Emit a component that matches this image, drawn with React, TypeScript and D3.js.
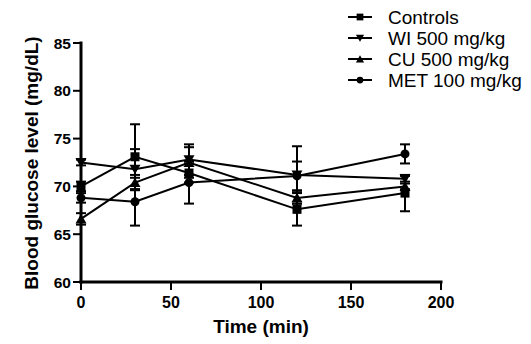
import React from "react";
import * as d3 from "d3";

const times = [0, 30, 60, 120, 180];
const seriesNames = ["Controls", "WI 500 mg/kg", "CU 500 mg/kg", "MET 100 mg/kg"];
const controls = [70.0, 73.1, 71.4, 67.6, 69.3];
const controlsErr = [0.5, 3.4, 1.0, 1.7, 1.9];
const wi = [72.5, 71.8, 72.8, 71.2, 70.8];
const wiErr = [0.3, 2.1, 1.6, 3.0, 0.3];
const cu = [66.6, 70.4, 72.5, 68.8, 70.0];
const cuErr = [0.6, 0.8, 1.6, 0.6, 0.3];
const met = [68.8, 68.4, 70.4, 71.1, 73.4];
const metErr = [0.5, 2.5, 2.2, 1.5, 1.0];
const xTicks = [0, 50, 100, 150, 200];
const yTicks = [60, 65, 70, 75, 80, 85];

const W = 531, H = 344;
const x = d3.scaleLinear().domain([0, 200]).range([81, 441]);
const y = d3.scaleLinear().domain([60, 85]).range([282, 43]);

const data = [
  { name: seriesNames[0], v: controls, e: controlsErr, m: "square" },
  { name: seriesNames[1], v: wi, e: wiErr, m: "down" },
  { name: seriesNames[2], v: cu, e: cuErr, m: "up" },
  { name: seriesNames[3], v: met, e: metErr, m: "circle" },
];

function Marker({ type, cx, cy, s = 1 }: { type: string; cx: number; cy: number; s?: number }) {
  if (type === "square") return <rect x={cx - 4.5 * s} y={cy - 4.5 * s} width={9 * s} height={9 * s} fill="#000" />;
  if (type === "down") return <path d={`M${cx - 5.5 * s},${cy - 4.5 * s}L${cx + 5.5 * s},${cy - 4.5 * s}L${cx},${cy + 5 * s}Z`} fill="#000" />;
  if (type === "up") return <path d={`M${cx - 5.5 * s},${cy + 4.5 * s}L${cx + 5.5 * s},${cy + 4.5 * s}L${cx},${cy - 5 * s}Z`} fill="#000" />;
  return <circle cx={cx} cy={cy} r={4.5 * s} fill="#000" />;
}

export default function App() {
  const line = d3.line<number>().x((_, i) => x(times[i])).y((d) => y(d));
  return (
    <svg width={W} height={H} style={{ position: "absolute", left: 0, top: 0 }} fontFamily="Liberation Sans, Arial, sans-serif">
      <rect width={W} height={H} fill="#fff" />
      {data.map((s) => (
        <g key={s.name}>
          {s.v.map((v, i) => {
            const cx = x(times[i]);
            return (
              <g key={i} stroke="#000" strokeWidth={2}>
                <line x1={cx} x2={cx} y1={y(v - s.e[i])} y2={y(v + s.e[i])} />
                <line x1={cx - 5} x2={cx + 5} y1={y(v - s.e[i])} y2={y(v - s.e[i])} />
                <line x1={cx - 5} x2={cx + 5} y1={y(v + s.e[i])} y2={y(v + s.e[i])} />
              </g>
            );
          })}
          <path d={line(s.v) || ""} fill="none" stroke="#000" strokeWidth={2} />
          {s.v.map((v, i) => (
            <Marker key={i} type={s.m} cx={x(times[i])} cy={y(v)} />
          ))}
        </g>
      ))}
      {/* axes */}
      <line x1={81} x2={81} y1={41.5} y2={283.5} stroke="#000" strokeWidth={3} />
      <line x1={79.5} x2={442.5} y1={282} y2={282} stroke="#000" strokeWidth={3} />
      {yTicks.map((t) => (
        <g key={t}>
          <line x1={73} x2={81} y1={y(t)} y2={y(t)} stroke="#000" strokeWidth={2} />
          <text x={71} y={y(t) + 5.5} textAnchor="end" fontSize={15.5} fontWeight="bold">{t}</text>
        </g>
      ))}
      {xTicks.map((t) => (
        <g key={t}>
          <line x1={x(t)} x2={x(t)} y1={282} y2={290} stroke="#000" strokeWidth={2} />
          <text x={x(t)} y={308} textAnchor="middle" fontSize={16} fontWeight="bold">{t}</text>
        </g>
      ))}
      <text x={261} y={333} textAnchor="middle" fontSize={19} fontWeight="bold">Time (min)</text>
      <text transform={`translate(38,163) rotate(-90)`} textAnchor="middle" fontSize={19} fontWeight="bold">Blood glucose level (mg/dL)</text>
      {/* legend */}
      {data.map((s, i) => {
        const ly = 17 + i * 21;
        return (
          <g key={s.name}>
            <line x1={348} x2={372} y1={ly} y2={ly} stroke="#000" strokeWidth={2} />
            <Marker type={s.m} cx={360} cy={ly} s={0.75} />
            <text x={388} y={ly + 6.5} fontSize={19}>{s.name}</text>
          </g>
        );
      })}
    </svg>
  );
}
